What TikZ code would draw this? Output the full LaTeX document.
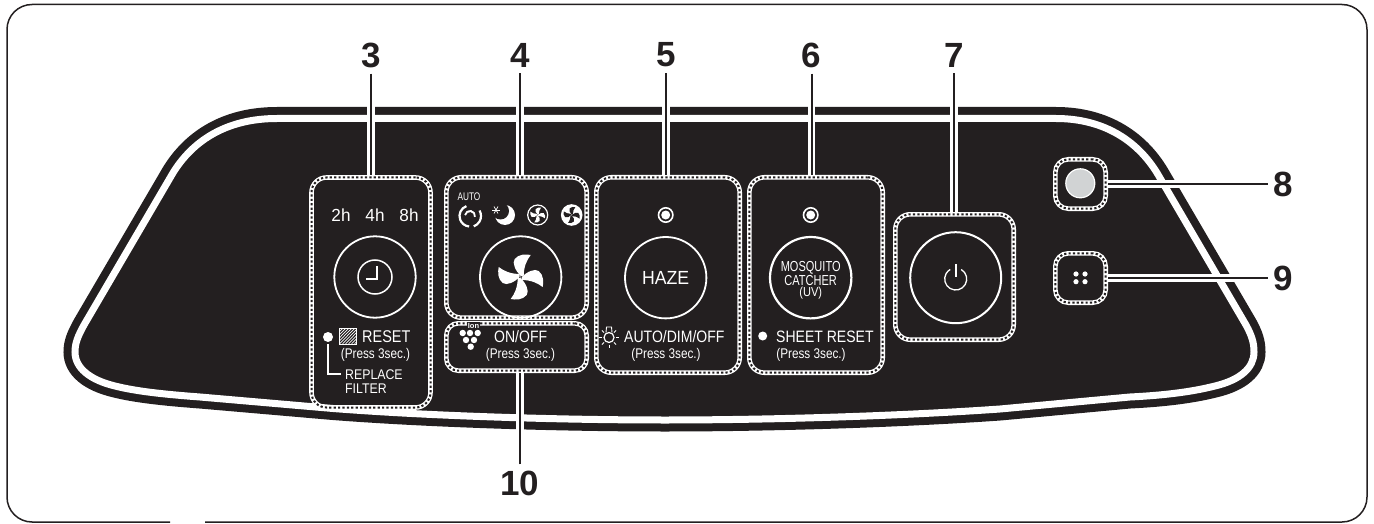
\documentclass[tikz,border=0pt]{standalone}
\usepackage{fontspec}
\usepackage{graphicx}
\setmainfont{Liberation Sans}
\definecolor{ink}{HTML}{231F20}
\definecolor{led}{HTML}{D1D3D4}
\newcommand{\lbl}[3]{\scalebox{#2}[1]{\fontsize{#1}{#1}\selectfont #3}}
\newcommand{\panelpath}{(277,118.5) -- (1056,118.5) .. controls (1105,118.5) and (1140,142) .. (1160,178) -- (1246,325) .. controls (1252,336) and (1254,343) .. (1254,352) .. controls (1254,368) and (1240,380) .. (1215,386) .. controls (1195,391) and (1170,395) .. (1130,397) -- (1000,409) .. controls (900,416) and (770,420) .. (665,420) .. controls (560,420) and (430,416) .. (333,408.5) -- (200,397) .. controls (160,394) and (135,391) .. (115,386) .. controls (90,380) and (75,368) .. (75,352) .. controls (75,343) and (78,336) .. (84,325) -- (170,178) .. controls (190,142) and (225,118.5) .. (277,118.5) -- cycle}
\tikzset{
  dotbox/.style={draw=white, line width=4.6pt, rounded corners=15pt, inner sep=0pt,
    postaction={draw=ink, line width=2pt, dash pattern=on 2.2pt off 2.2pt}},
  num/.style={font=\bfseries\fontsize{35}{35}\selectfont, text=ink, inner sep=0pt},
  txt/.style={text=white, inner sep=0pt},
  leader/.style={draw=white, line width=7.5pt, postaction={draw=ink, line width=2pt}},
  ring/.style={draw=white, line width=1.8pt},
  wline/.style={draw=white, line width=1.2pt},
}
\newcommand{\fan}[4]{%
  \foreach \a in {0,90,180,270}{\fill[#4,shift={(#1,#2)},rotate=\a,scale=#3] (0,-1) .. controls (-5,-6) and (-9,-14) .. (-6,-18) .. controls (-2,-23) and (5,-23) .. (10,-22) .. controls (6,-17) and (3,-10) .. (3,-1) -- cycle;}}
\begin{document}
\begin{tikzpicture}[x=1pt,y=-1pt]
\useasboundingbox (0,0) rectangle (1374,524);
% outer frame
\draw[ink, line width=1.5pt, rounded corners=25pt] (170,522) -- (7,522) -- (7,4.5) -- (1367,4.5) -- (1367,522) -- (205,522);
% panel
\path[fill=ink, draw=ink, line width=23pt] \panelpath;
\draw[white, line width=7pt] \panelpath;
% boxes
\node[dotbox, minimum width=119pt, minimum height=230pt] (b3) at (371,292.5) {};
\node[dotbox, minimum width=140.4pt, minimum height=140.4pt] (b4) at (516.5,247.5) {};
\node[dotbox, minimum width=140.4pt, minimum height=47.4pt, rounded corners=12pt] (b10) at (516.5,347) {};
\node[dotbox, minimum width=143.4pt, minimum height=195.4pt] (b5) at (668,275) {};
\node[dotbox, minimum width=133.4pt, minimum height=195.4pt] (b6) at (816,275) {};
\node[dotbox, minimum width=118.4pt, minimum height=125.4pt] (b7) at (954.5,277) {};
\node[dotbox, minimum width=50.4pt, minimum height=49.4pt, rounded corners=13pt] (b8) at (1080.5,184) {};
\node[dotbox, minimum width=50.4pt, minimum height=49.4pt, rounded corners=13pt] (b9) at (1080.5,278) {};
% numbers
\node[num] (n3) at (371,55) {3};
\node[num] (n4) at (520,55) {4};
\node[num] (n5) at (666,55) {5};
\node[num] (n6) at (811.5,55) {6};
\node[num] (n7) at (954,55) {7};
\node[num] (n8) at (1283.5,184) {8};
\node[num] (n9) at (1283.5,278) {9};
\node[num] (n10) at (520,483) {10};
% leaders
\begin{scope}[shorten <=6pt]
\path[leader] (n3.south) -- (n3.south |- b3.north);
\path[leader] (n4.south) -- (n4.south |- b4.north);
\path[leader] (n5.south) -- (n5.south |- b5.north);
\path[leader] (n6.south) -- (n6.south |- b6.north);
\path[leader] (n7.south) -- (n7.south |- b7.north);
\path[leader] (n10.north) -- (n10.north |- b10.south);
\path[leader] (n8.west) -- (b8.east);
\path[leader] (n9.west) -- (b9.east);
\end{scope}
% box 3
\foreach \t/\x in {2h/341,4h/375,8h/409}{\node[txt] (t\t) at (\x,215) {\lbl{17.5}{.98}{\t}};}
\node[ring, circle, minimum size=81.4pt, inner sep=0pt] (c3) at (375,277) {};
\node[draw=white, line width=1.5pt, circle, minimum size=34pt, inner sep=0pt] (clock) at (375,277) {};
\draw[wline, line width=1.5pt] (377,266) -- (377,279) -- (366,279);
\fill[white] (328,337) circle[radius=5pt];
\draw[white, line width=.8pt] (339.5,328.5) rectangle (356.5,344);
\begin{scope}
\clip (339.5,328.5) rectangle (356.5,344);
\foreach \d in {0,3,...,33}{\draw[white, line width=.7pt] (339.5+\d-15,344) -- (339.5+\d,328.5);}
\end{scope}
\node[txt, anchor=west] (reset) at (362,337) {\lbl{17}{.85}{RESET}};
\node[txt] (p3) at (375.5,355) {\lbl{14}{.84}{(Press 3sec.)}};
\draw[wline] (328,344) -- (328,374) -- (341,374);
\node[txt, anchor=west] (rep) at (345,375) {\lbl{14}{.88}{REPLACE}};
\node[txt, anchor=west] (fil) at (345,389) {\lbl{14}{.88}{FILTER}};
% box 4
\node[txt] (auto) at (469,197) {\lbl{11}{.75}{AUTO}};
\draw[white, line width=2.2pt] ([shift={(110:10.5pt)}]470,216) arc[start angle=110, end angle=265, radius=10.5pt];
\draw[white, line width=2.2pt] ([shift={(30:11pt)}]470,216) arc[start angle=30, end angle=-70, radius=11pt];
\draw[white, line width=1.8pt] ([shift={(170:5pt)}]470,216) arc[start angle=170, end angle=-10, radius=5pt];
\draw[white, line width=1.5pt] ([shift={(120:5pt)}]470,216) arc[start angle=120, end angle=40, radius=5pt];
\fill[white] (505,215) circle[radius=10pt];
\fill[ink] (500.5,211) circle[radius=8.5pt];
\foreach \a in {0,60,120}{\draw[white, line width=.7pt, shift={(496,210)}, rotate=\a] (-4,0) -- (4,0);}
\draw[white, line width=1.2pt] (537.7,215) circle[radius=10pt];
\fan{537.7}{215}{.33}{white}
\fill[white] (571.7,215) circle[radius=10.8pt];
\fan{571.7}{215}{.36}{ink}
\node[ring, circle, minimum size=81.4pt, inner sep=0pt] (c4) at (520.7,277) {};
\fan{520.7}{277}{1}{white}
\fill[ink] (520.7,277) circle[radius=1.2pt];
\fill[white] (520.7,277) circle[radius=.6pt];
% box 10
\foreach \x/\y in {462.7/333,470/333,477.7/333,466/340,474/340,470.7/346.7}{\fill[white] (\x,\y) circle[radius=3.2pt];}
\node[txt, fill=ink, inner sep=.4pt] (ion) at (473.5,325.5) {\bfseries\lbl{7.5}{1}{Ion}};
\node[txt, anchor=west] (onoff) at (494,337) {\lbl{16.5}{.85}{ON/OFF}};
\node[txt] (p10) at (520.5,355) {\lbl{14}{.84}{(Press 3sec.)}};
% box 5
\draw[white, line width=1.6pt] (665.7,215) circle[radius=7.2pt];
\fill[white] (665.7,215) circle[radius=4.5pt];
\node[ring, circle, minimum size=81.4pt, inner sep=0pt] (c5) at (665.7,277.7) {};
\node[txt] (haze) at (665.7,278) {\lbl{19}{.93}{HAZE}};
\draw[wline] (609,337.5) circle[radius=5pt];
\draw[white, line width=.9pt] (606,332.5) -- (606.5,327) -- (611.5,327) -- (612,332.5);
\foreach \a in {0,45,135,180,225,270,315}{\draw[white, line width=.8pt, shift={(609,337.5)}, rotate=\a] (7,0) -- (10,0);}
\node[txt, anchor=west] (dim) at (624,337) {\lbl{16.5}{.85}{AUTO/DIM/OFF}};
\node[txt] (p5) at (666,355) {\lbl{14}{.84}{(Press 3sec.)}};
% box 6
\draw[white, line width=1.6pt] (810.7,215) circle[radius=7.2pt];
\fill[white] (810.7,215) circle[radius=4.5pt];
\node[draw=white, line width=2.2pt, circle, minimum size=81.4pt, inner sep=0pt] (c6) at (810.7,277.7) {};
\node[txt] (mq) at (810.7,267.7) {\lbl{14.5}{.76}{MOSQUITO}};
\node[txt] (ca) at (810.7,280.2) {\lbl{14.5}{.76}{CATCHER}};
\node[txt] (uv) at (810.7,293.5) {\lbl{13}{.85}{(UV)}};
\fill[white] (762.7,336) circle[radius=4.5pt];
\node[txt, anchor=west] (sr) at (776,337) {\lbl{16.5}{.85}{SHEET RESET}};
\node[txt] (p6) at (811,355) {\lbl{14}{.84}{(Press 3sec.)}};
% box 7
\node[draw=white, line width=2pt, circle, minimum size=91pt, inner sep=0pt] (c7) at (955.7,277.7) {};
\draw[wline, line width=1.3pt] ([shift={(60:11pt)}]955.7,279) arc[start angle=60, end angle=-240, radius=11pt];
\draw[wline, line width=1.6pt] (955.7,264) -- (955.7,277);
% box 8
\node[draw=white, fill=led, line width=1.2pt, circle, minimum size=29pt, inner sep=0pt] (c8) at (1080.3,183.3) {};
% box 9
\foreach \x/\y in {1076/274,1085/274,1076/281.7,1085/281.7}{\fill[white] (\x,\y) circle[radius=2.6pt];}
\end{tikzpicture}
\end{document}
